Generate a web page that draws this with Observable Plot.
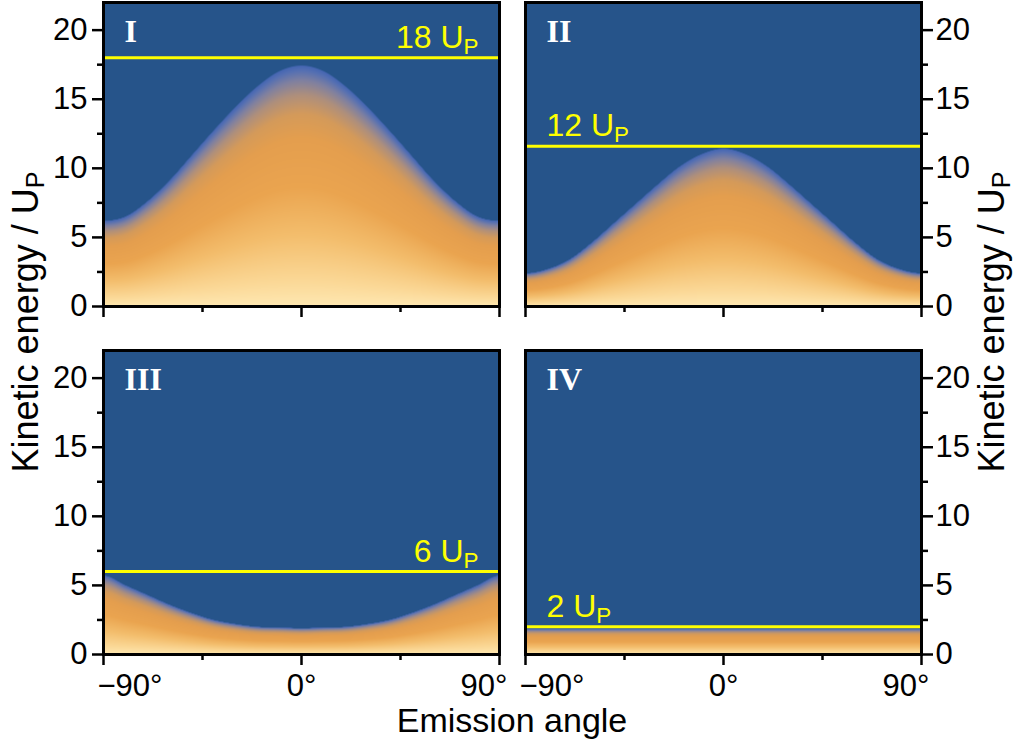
<!DOCTYPE html>
<html><head><meta charset="utf-8">
<script src="https://cdn.jsdelivr.net/npm/d3@7"></script>
<script src="https://cdn.jsdelivr.net/npm/@observablehq/plot@0.6"></script>
<style>
body{margin:0;background:#fff;}
#fig{position:relative;width:1016px;height:744px;font-family:"Liberation Sans",Arial,sans-serif;color:#000;overflow:hidden;}
.pane{position:absolute;}
#titles{position:absolute;left:0;top:0;pointer-events:none;}
</style></head><body><div id="fig"></div>
<script>
// ---- data ----
const angles = [-90,-80,-70,-60,-50,-40,-30,-20,-10,0,10,20,30,40,50,60,70,80,90];
const boundaryI   = [6.2,6.5,7.6,9.1,10.9,12.7,14.4,15.9,17.0,17.4,17.0,15.9,14.4,12.7,10.9,9.1,7.6,6.5,6.2];
const boundaryII  = [2.4,2.7,3.4,4.6,6.0,7.4,8.8,10.1,11.0,11.4,11.0,10.1,8.8,7.4,6.0,4.6,3.4,2.7,2.4];
const boundaryIII = [5.7,5.0,4.3,3.6,3.0,2.5,2.2,2.0,1.95,1.9,1.95,2.0,2.2,2.5,3.0,3.6,4.3,5.0,5.7];
const boundaryIV  = [1.85,1.85,1.85,1.85,1.85,1.85,1.85,1.85,1.85,1.85,1.85,1.85,1.85,1.85,1.85,1.85,1.85,1.85,1.85];
const panelNames = ["I","II","III","IV"];
const lineValues = [18, 11.6, 6, 2];
const lineLabels = ["18 U_P","12 U_P","6 U_P","2 U_P"];
const yTicks = [0,5,10,15,20];
const yMinor = [2.5,7.5,12.5,17.5];
const xTicks = [-90,0,90];
const xMinor = [-45,45];
const xTitle = "Emission angle";
const yTitleMain = "Kinetic energy / U";
const yTitleSub = "P";

// ---- styling ----
const BLUE = "#26548a";
const stops  = [0, 0.1, 0.3, 0.5, 0.7, 0.8, 0.88, 0.94, 0.98, 1.0, 1.004];
const colors = ["#fee8b2","#fbd998","#f3bd6c","#eaa44f","#e49e4e","#d49a5a","#ae8f7c","#7f80a0","#5670b2","#4566b2",BLUE];
const ramp = d3.scaleLinear().domain(stops).range(colors).interpolate(d3.interpolateRgb).clamp(true);
const FS = 31;
const fmtX = d => (d < 0 ? "\u2212" : "") + Math.abs(d) + "\u00b0";
const SVGNS = "http://www.w3.org/2000/svg";

// smooth (Catmull-Rom, mirrored ends) curve through the read boundary values
function smoothCurve(xs, ys) {
  const n = xs.length;
  return x => {
    let i = d3.bisectRight(xs, x) - 1;
    i = Math.max(0, Math.min(n - 2, i));
    const t = (x - xs[i]) / (xs[i + 1] - xs[i]);
    const p0 = i - 1 < 0 ? ys[1] : ys[i - 1];
    const p1 = ys[i], p2 = ys[i + 1];
    const p3 = i + 2 > n - 1 ? ys[n - 2] : ys[i + 2];
    return 0.5 * (2 * p1 + (-p0 + p2) * t + (2 * p0 - 5 * p1 + 4 * p2 - p3) * t * t + (-p0 + 3 * p1 - 3 * p2 + p3) * t * t * t);
  };
}

const fig = document.getElementById("fig");

function panel(i, boundary, opts) {
  const b = smoothCurve(angles, boundary);
  const isLeft = opts.left, isBottom = opts.bottom;
  const width = isLeft ? 510 : 506;
  const height = isBottom ? 414 : 330;
  const marginLeft = isLeft ? 103 : 15;
  const marginRight = isLeft ? 11 : 95;
  const marginTop = isBottom ? 20 : 2;
  const marginBottom = isBottom ? 90 : 24;
  const anchor = isLeft ? "left" : "right";
  const marks = [
    Plot.raster({x1: -90, x2: 90, y1: 0, y2: 22, pixelSize: 1,
      fill: (x, y) => Math.min(y / b(x), 1.1)}),
    Plot.ruleY([lineValues[i]], {stroke: "#ffff00", strokeWidth: 3}),
    Plot.text([lineLabels[i]], {x: opts.labelRight ? 90 : -90, y: lineValues[i],
      text: d => d, textAnchor: opts.labelRight ? "end" : "start", dx: opts.labelRight ? -21 : 21, dy: -10,
      lineAnchor: "bottom", fill: "#ffff00", fontSize: 32, fontFamily: "Liberation Sans, Arial, sans-serif"}),
    Plot.text([panelNames[i]], {frameAnchor: "top-left", text: d => d, dx: 21, dy: 17, lineAnchor: "top",
      textAnchor: "start", fill: "white", fontSize: 32, fontWeight: "bold", fontFamily: "Liberation Serif, Times New Roman, serif"}),
    Plot.frame({stroke: "black", strokeWidth: 3}),
    Plot.axisY({anchor, ticks: yTicks, tickSize: 11, tickPadding: isLeft ? 5 : 3, strokeWidth: 2.5,
      fontSize: FS, label: null, tickFormat: d => String(d)}),
    Plot.axisY({anchor, ticks: yMinor, tickSize: 6, strokeWidth: 2.5, label: null, tickFormat: () => ""}),
    Plot.axisX({anchor: "bottom", ticks: xMinor, tickSize: 6, strokeWidth: 2.5, label: null, tickFormat: () => ""}),
    Plot.axisX({anchor: "bottom", ticks: xTicks, tickSize: 11, strokeWidth: 2.5, label: null, tickFormat: () => ""})
  ];
  if (isBottom) {
    marks.push(
      Plot.axisX({anchor: "bottom", ticks: [xTicks[0]], tickSize: 0, tickPadding: 19, label: null,
        fontSize: FS, tickFormat: fmtX, textAnchor: "start", dx: -6}),
      Plot.axisX({anchor: "bottom", ticks: [xTicks[1]], tickSize: 0, tickPadding: 19, label: null,
        fontSize: FS, tickFormat: fmtX}),
      Plot.axisX({anchor: "bottom", ticks: [xTicks[2]], tickSize: 0, tickPadding: 19, label: null,
        fontSize: FS, tickFormat: fmtX, textAnchor: "end", dx: 8})
    );
  }
  const svg = Plot.plot({
    width, height, marginLeft, marginRight, marginTop, marginBottom,
    x: {domain: [-90, 90]},
    y: {domain: [0, 22]},
    color: {type: "linear", domain: [0, 1.1], interpolate: t => ramp(t * 1.1)},
    style: {fontFamily: "Liberation Sans, Arial, sans-serif", fontSize: FS + "px", color: "black", background: "transparent", overflow: "visible"},
    marks
  });
  // subscript P in the yellow labels
  svg.querySelectorAll("text").forEach(t => {
    const s = t.textContent;
    if (/U_P$/.test(s)) {
      t.textContent = s.replace(/U_P$/, "U");
      const ts = document.createElementNS(SVGNS, "tspan");
      ts.setAttribute("font-size", "0.7em");
      ts.setAttribute("dy", "0.28em");
      ts.textContent = "P";
      t.appendChild(ts);
    }
  });
  const div = document.createElement("div");
  div.className = "pane";
  div.style.left = (isLeft ? 0 : 510) + "px";
  div.style.top = (isBottom ? 330 : 0) + "px";
  div.appendChild(svg);
  fig.appendChild(div);
}

panel(0, boundaryI,   {left: true,  bottom: false, labelRight: true});
panel(1, boundaryII,  {left: false, bottom: false, labelRight: false});
panel(2, boundaryIII, {left: true,  bottom: true,  labelRight: true});
panel(3, boundaryIV,  {left: false, bottom: true,  labelRight: false});

// axis titles
const ov = document.createElementNS(SVGNS, "svg");
ov.setAttribute("id", "titles");
ov.setAttribute("width", 1016);
ov.setAttribute("height", 744);
ov.setAttribute("font-family", "Liberation Sans, Arial, sans-serif");
function yTitle(x, y) {
  const t = document.createElementNS(SVGNS, "text");
  t.setAttribute("transform", `translate(${x},${y}) rotate(-90)`);
  t.setAttribute("text-anchor", "middle");
  t.setAttribute("font-size", 36);
  t.textContent = yTitleMain;
  const s = document.createElementNS(SVGNS, "tspan");
  s.setAttribute("font-size", "0.7em");
  s.setAttribute("dy", "0.22em");
  s.textContent = yTitleSub;
  t.appendChild(s);
  ov.appendChild(t);
}
yTitle(38, 322);
yTitle(1004, 322);
const xt = document.createElementNS(SVGNS, "text");
xt.setAttribute("x", 512);
xt.setAttribute("y", 732);
xt.setAttribute("text-anchor", "middle");
xt.setAttribute("font-size", 34);
xt.textContent = xTitle;
ov.appendChild(xt);
fig.appendChild(ov);
</script></body></html>
